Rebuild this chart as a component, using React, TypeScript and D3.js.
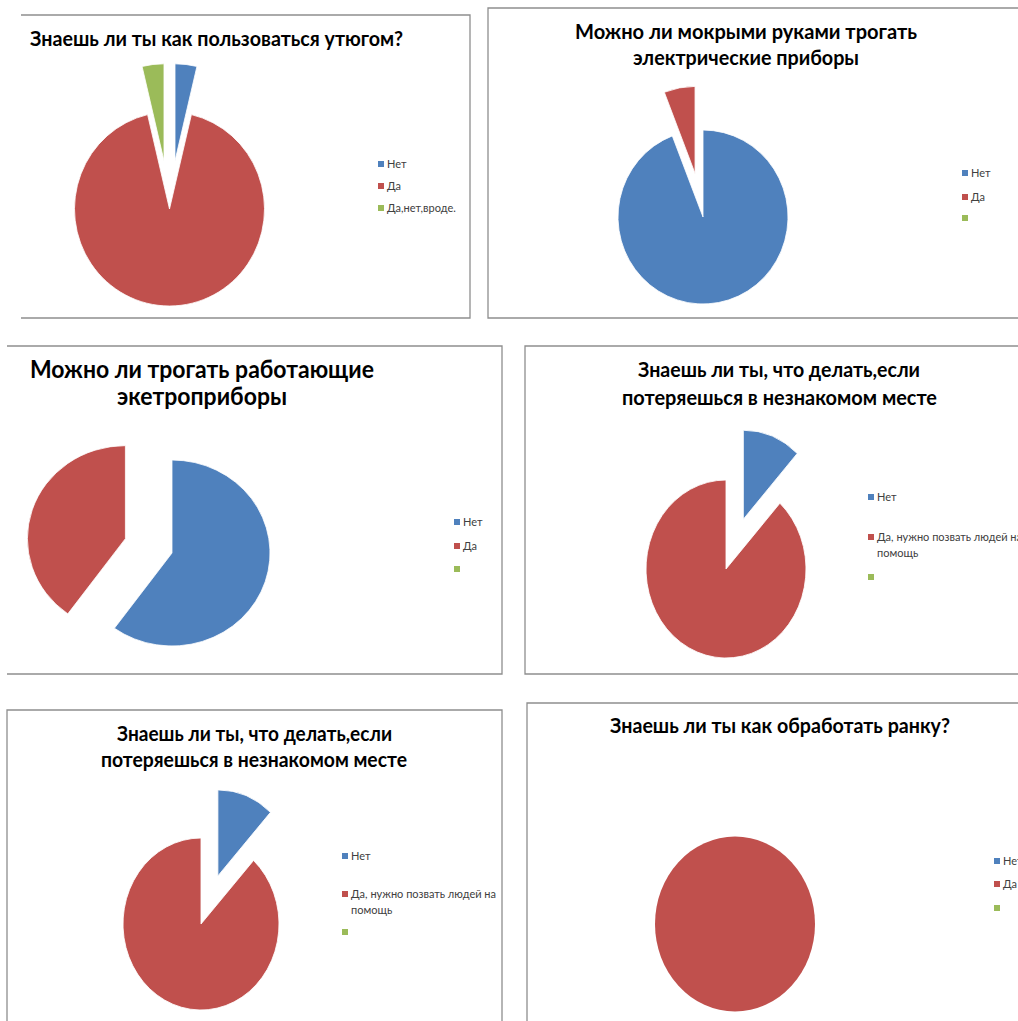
import React from "react";
import * as d3 from "d3";

// ---- data ----
const seriesColors = ["#4F81BD", "#C0504D", "#9BBB59"];

const ironTitle = ["Знаешь ли ты как пользоваться утюгом?"];
const ironLabels = ["Нет", "Да", "Да,нет,вроде."];
const ironValues = [1, 25, 1];

const wetTitle = ["Можно ли мокрыми руками трогать", "электрические приборы"];
const wetLabels = ["Нет", "Да", ""];
const wetValues = [16, 1, 0];

const touchTitle = ["Можно ли трогать работающие", "экетроприборы"];
const touchLabels = ["Нет", "Да", ""];
const touchValues = [12, 8, 0];

const lostTitle = ["Знаешь ли ты, что делать,если", "потеряешься в незнакомом месте"];
const lostLabels = ["Нет", "Да, нужно позвать людей на\nпомощь", ""];
const lostValues = [2, 15, 0];

const woundTitle = ["Знаешь ли ты как обработать ранку?"];
const woundLabels = ["Нет", "Да", ""];
const woundValues = [0, 1, 0];

// ---- layout ----
type Panel = {
  title: string[];
  labels: string[];
  values: number[];
  explode: number[];
  frame: { x: number; y: number; w: number; h: number; left: boolean };
  titleFont: number;
  titleLines: { x: number; y: number; w: number }[];
  cx: number;
  cy: number;
  rx: number;
  ry: number;
  legX: number;
  legY: number[];
};

const panels: Panel[] = [
  {
    title: ironTitle, labels: ironLabels, values: ironValues, explode: [0.5, 0, 0.5],
    frame: { x: 21, y: 15, w: 449, h: 303, left: false },
    titleFont: 20.5, titleLines: [{ x: 30, y: 46, w: 373 }],
    cx: 169.5, cy: 209, rx: 95, ry: 97, legX: 381, legY: [164, 186, 208],
  },
  {
    title: wetTitle, labels: wetLabels, values: wetValues, explode: [0, 0.51, 0],
    frame: { x: 488, y: 8, w: 560, h: 310, left: true },
    titleFont: 21.5, titleLines: [{ x: 575, y: 39, w: 342 }, { x: 633, y: 65, w: 226 }],
    cx: 703, cy: 217, rx: 85, ry: 87, legX: 965, legY: [173, 197, 218],
  },
  {
    title: touchTitle, labels: touchLabels, values: touchValues, explode: [0, 0.5, 0],
    frame: { x: 7, y: 346, w: 495, h: 328, left: false },
    titleFont: 24.5, titleLines: [{ x: 30, y: 378, w: 344 }, { x: 117, y: 405, w: 170 }],
    cx: 172, cy: 553, rx: 98, ry: 93, legX: 457, legY: [522, 546, 569],
  },
  {
    title: lostTitle, labels: lostLabels, values: lostValues, explode: [0.6, 0, 0],
    frame: { x: 525, y: 346, w: 520, h: 328, left: true },
    titleFont: 21, titleLines: [{ x: 638, y: 377, w: 282 }, { x: 622, y: 405, w: 315 }],
    cx: 726, cy: 569, rx: 80, ry: 89, legX: 871, legY: [497, 537, 577],
  },
  {
    title: lostTitle, labels: lostLabels, values: lostValues, explode: [0.6, 0, 0],
    frame: { x: 7, y: 710, w: 495, h: 340, left: true },
    titleFont: 20.5, titleLines: [{ x: 117, y: 741, w: 275 }, { x: 101, y: 767, w: 306 }],
    cx: 201, cy: 924, rx: 78, ry: 86, legX: 345, legY: [856, 894, 932],
  },
  {
    title: woundTitle, labels: woundLabels, values: woundValues, explode: [0, 0, 0],
    frame: { x: 527, y: 703, w: 520, h: 340, left: true },
    titleFont: 21, titleLines: [{ x: 610, y: 733, w: 340 }],
    cx: 735, cy: 924, rx: 80, ry: 87.5, legX: 997, legY: [861, 884, 908],
  },
];

function PiePanel({ p }: { p: Panel }) {
  const pie = d3
    .pie<number>()
    .sort(null)
    .value((d) => d)
    .startAngle(0)
    .endAngle(2 * Math.PI);
  const arcs = pie(p.values);
  const arc = d3.arc<d3.PieArcDatum<number>>().innerRadius(0).outerRadius(p.rx);
  const f = p.frame;
  const framePath = f.left
    ? `M${f.x},${f.y}H${f.x + f.w}V${f.y + f.h}H${f.x}Z`
    : `M${f.x},${f.y}H${f.x + f.w}V${f.y + f.h}H${f.x}`;
  return (
    <g>
      <path d={framePath} fill="none" stroke="#8e8e8e" strokeWidth={1.3} />
      {p.title.map((t, i) => (
        <text
          key={i}
          x={p.titleLines[i].x}
          y={p.titleLines[i].y}
          textLength={p.titleLines[i].w}
          lengthAdjust="spacingAndGlyphs"
          fontFamily="Lato, 'Open Sans', sans-serif"
          fontWeight="bold"
          fontSize={p.titleFont}
          fill="#000"
        >
          {t}
        </text>
      ))}
      <g transform={`translate(${p.cx},${p.cy}) scale(1,${p.ry / p.rx})`}>
        {arcs.map((a, i) => {
          if (a.endAngle - a.startAngle <= 0) return null;
          const mid = (a.startAngle + a.endAngle) / 2;
          const d = p.explode[i] * p.rx;
          const ox = Math.sin(mid) * d;
          const oy = -Math.cos(mid) * d;
          const full = a.endAngle - a.startAngle >= 2 * Math.PI - 1e-6;
          return full ? (
            <circle key={i} r={p.rx} fill={seriesColors[i]} />
          ) : (
            <path
              key={i}
              d={arc(a) || ""}
              transform={`translate(${ox},${oy})`}
              fill={seriesColors[i]}
              stroke="#fff"
              strokeWidth={0.8}
            />
          );
        })}
      </g>
      {p.labels.map((lab, i) => (
        <g key={i}>
          <rect x={p.legX - 3} y={p.legY[i] - 3} width={6} height={6} fill={seriesColors[i]} />
          {lab.split("\n").map((ln, j) => (
            <text
              key={j}
              x={p.legX + 6}
              y={p.legY[i] + 4 + j * 16}
              fontFamily="Lato, 'Open Sans', sans-serif"
              fontSize={11}
              fill="#404040"
            >
              {ln}
            </text>
          ))}
        </g>
      ))}
    </g>
  );
}

export default function App() {
  return (
    <svg
      width={1018}
      height={1021}
      style={{ position: "absolute", left: 0, top: 0, background: "#fff" }}
    >
      <rect x={0} y={0} width={1018} height={1021} fill="#fff" />
      {panels.map((p, i) => (
        <PiePanel key={i} p={p} />
      ))}
    </svg>
  );
}
